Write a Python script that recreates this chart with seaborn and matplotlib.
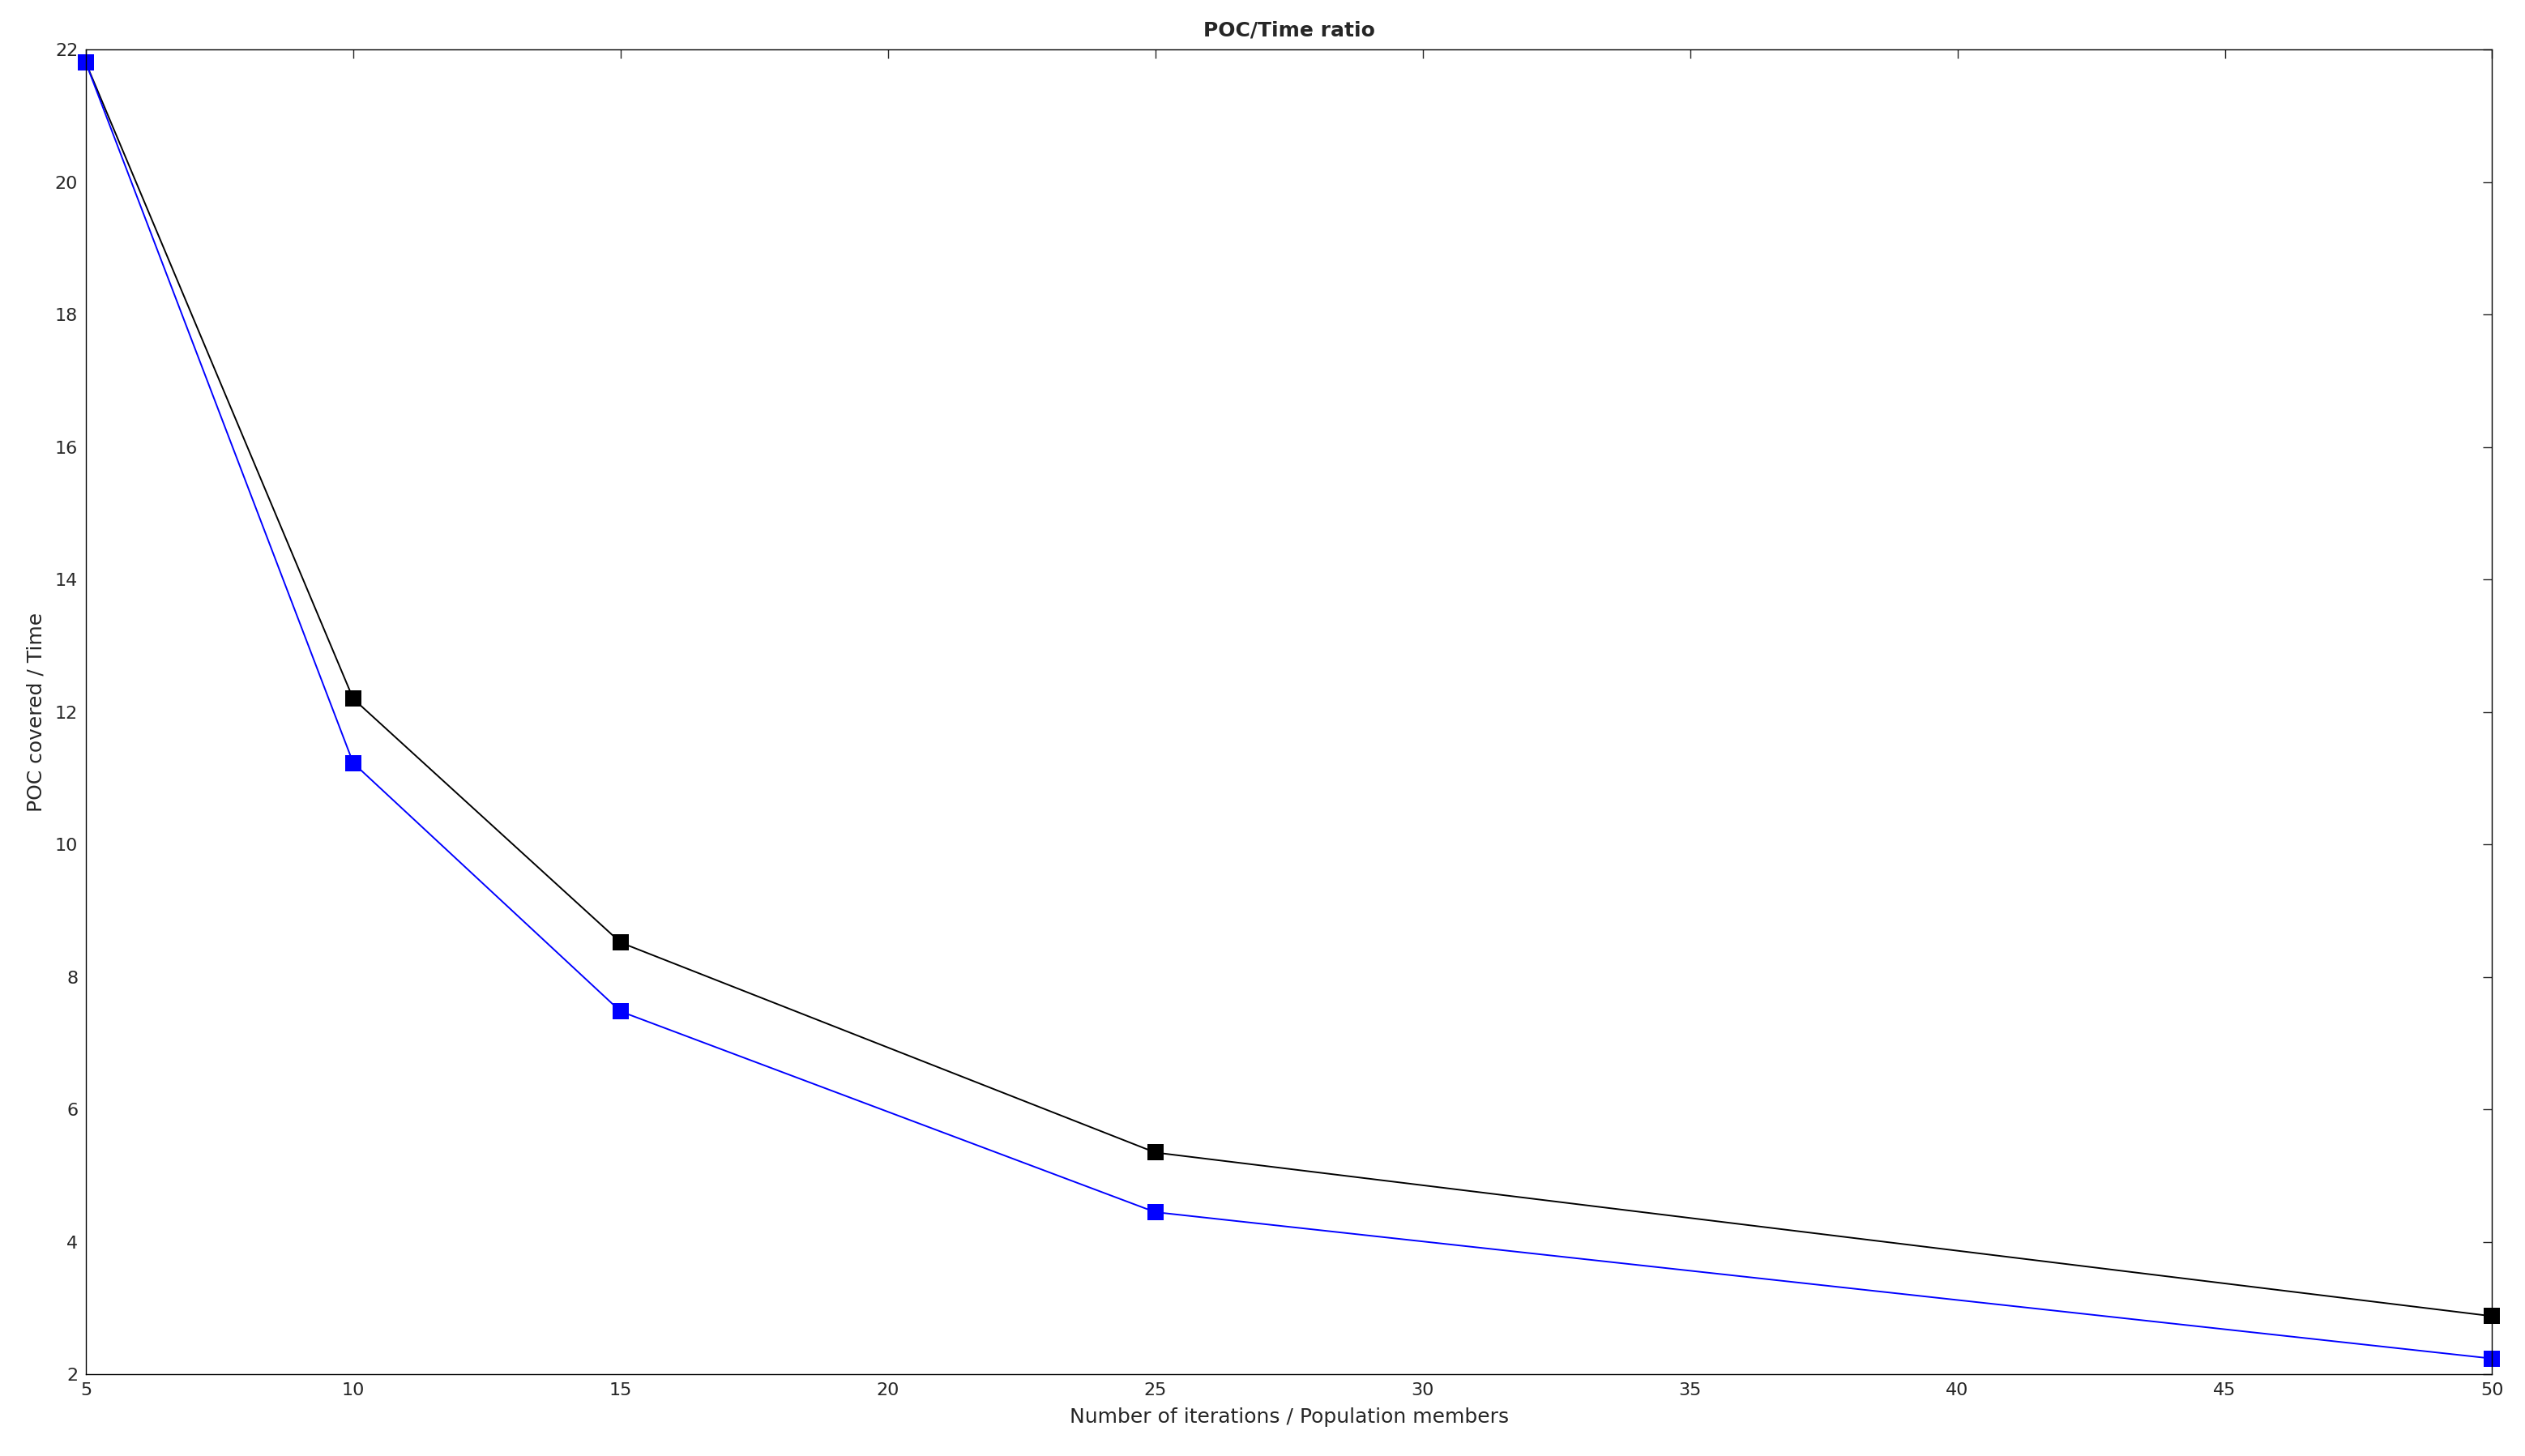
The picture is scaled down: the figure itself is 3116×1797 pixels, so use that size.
import seaborn as sns
import matplotlib.pyplot as plt
import pandas as pd

iterations = [5, 10, 15, 25, 50]
black_vals = [21.8, 12.2, 8.52, 5.35, 2.88]
blue_vals = [21.8, 11.23, 7.48, 4.45, 2.24]

df = pd.DataFrame({
    "x": iterations * 2,
    "value": black_vals + blue_vals,
    "series": ["black"] * 5 + ["blue"] * 5,
})

sns.set_style("white")
plt.rcParams["font.family"] = ["DejaVu Sans"]

fig = plt.figure(figsize=(15.58, 8.985), dpi=200)
ax = fig.add_axes([0.034, 0.056, 0.953, 0.91])

sns.lineplot(data=df, x="x", y="value", hue="series",
             palette={"black": "black", "blue": "blue"},
             marker="s", markersize=7, markeredgecolor="none",
             linewidth=0.7, legend=False, ax=ax, clip_on=False)

ax.set_xlim(5, 50)
ax.set_ylim(2, 22)
ax.set_xticks(range(5, 51, 5))
ax.set_yticks(range(2, 23, 2))
ax.tick_params(direction="in", labelsize=8, length=4, width=0.5,
               top=True, right=True)
for s in ax.spines.values():
    s.set_linewidth(0.5)
    s.set_color("black")
ax.set_xlabel("Number of iterations / Population members", fontsize=9)
ax.set_ylabel("POC covered / Time", fontsize=9)
ax.set_title("POC/Time ratio", fontsize=9, fontweight="bold")

fig.savefig("out.png", dpi=200)
